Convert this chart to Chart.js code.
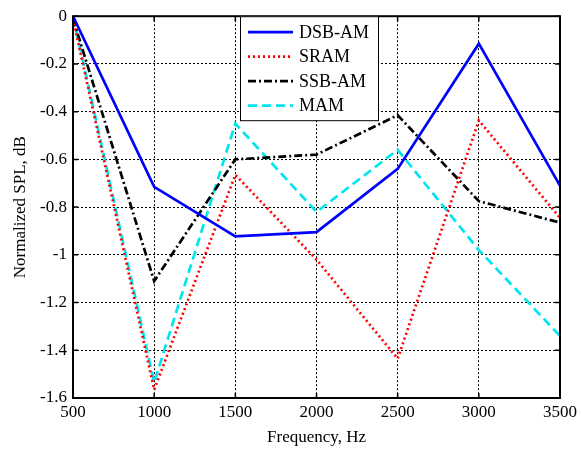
<!DOCTYPE html>
<html lang="en">
<head>
    <meta charset="UTF-8">
    <script src="https://cdn.jsdelivr.net/npm/chart.js"></script>
    <title>Normalized SPL</title>
    <style>
        body { margin: 0; background: #fff; }
        #wrap { width: 581px; height: 450px; }
    </style>
</head>
<body>
    <div id="wrap"><canvas id="splChart" width="581" height="450"></canvas></div>
    <script>
        // values
        const freqs = [500, 1000, 1500, 2000, 2500, 3000, 3500];
        const dsbAm = [0, -0.715, -0.923, -0.905, -0.64, -0.115, -0.71];
        const sram = [-0.01, -1.565, -0.665, -1.02, -1.435, -0.437, -0.845];
        const ssbAm = [-0.01, -1.11, -0.6, -0.58, -0.415, -0.775, -0.865];
        const mam = [0, -1.535, -0.45, -0.82, -0.56, -0.98, -1.34];

        const seriesNames = ['DSB-AM', 'SRAM', 'SSB-AM', 'MAM'];
        const seriesColors = ['#0000ff', '#ff0000', '#000000', '#00e5ee'];
        const seriesDash = [[], [2, 3], [8, 3, 2, 3], [9, 5]];
        const seriesValues = [dsbAm, sram, ssbAm, mam];

        const serif = "'Liberation Serif', 'DejaVu Serif', serif";

        const datasets = seriesNames.map((name, i) => ({
            label: name,
            data: freqs.map((f, j) => ({ x: f, y: seriesValues[i][j] })),
            borderColor: seriesColors[i],
            backgroundColor: seriesColors[i],
            borderDash: seriesDash[i],
            borderWidth: 2.7,
            pointRadius: 0,
            tension: 0,
            fill: false
        }));

        // frame, inward ticks and a matlab style legend box
        const matlabBits = {
            id: 'matlabBits',
            afterDatasetsDraw(chart) {
                const c = chart.ctx;
                const a = chart.chartArea;
                const xs = chart.scales.x, ys = chart.scales.y;
                c.save();
                c.strokeStyle = '#000';
                c.lineWidth = 1.5;
                c.setLineDash([]);
                xs.ticks.forEach(t => {
                    const px = xs.getPixelForValue(t.value);
                    c.beginPath();
                    c.moveTo(px, a.bottom); c.lineTo(px, a.bottom - 5);
                    c.moveTo(px, a.top); c.lineTo(px, a.top + 5);
                    c.stroke();
                });
                ys.ticks.forEach(t => {
                    const py = ys.getPixelForValue(t.value);
                    c.beginPath();
                    c.moveTo(a.left, py); c.lineTo(a.left + 5, py);
                    c.moveTo(a.right, py); c.lineTo(a.right - 5, py);
                    c.stroke();
                });
                c.lineWidth = 2;
                c.strokeRect(a.left, a.top, a.right - a.left, a.bottom - a.top);

                // legend
                const lx = 240, ly = a.top, lw = 138, lh = 104;
                c.fillStyle = '#fff';
                c.fillRect(lx, ly, lw, lh);
                c.lineWidth = 1;
                c.strokeRect(lx + 0.5, ly + 0.5, lw, lh);
                c.font = '18px ' + serif;
                c.textBaseline = 'middle';
                seriesNames.forEach((name, i) => {
                    const yy = ly + 16 + i * 24.5;
                    c.strokeStyle = seriesColors[i];
                    c.lineWidth = 2.7;
                    c.setLineDash(seriesDash[i]);
                    c.beginPath();
                    c.moveTo(lx + 8, yy); c.lineTo(lx + 53, yy);
                    c.stroke();
                    c.setLineDash([]);
                    c.fillStyle = '#000';
                    c.fillText(name, lx + 59, yy + 1);
                });
                c.restore();
            }
        };

        const tickFont = { family: serif, size: 17 };

        new Chart(document.getElementById('splChart'), {
            type: 'line',
            data: { datasets: datasets },
            plugins: [matlabBits],
            options: {
                responsive: false,
                animation: false,
                layout: { padding: { left: 0, right: 21, top: 13, bottom: 0 } },
                plugins: { legend: { display: false }, tooltip: { enabled: false } },
                scales: {
                    x: {
                        type: 'linear',
                        min: 500, max: 3500,
                        ticks: { stepSize: 500, color: '#000', font: tickFont, padding: 4, maxRotation: 0,
                                 callback: v => String(v) },
                        grid: { color: '#000', lineWidth: 1, drawTicks: false },
                        border: { display: false, dash: [2, 2] },
                        title: { display: true, text: 'Frequency, Hz', color: '#000', font: { family: serif, size: 17 }, padding: { top: 0, bottom: 2 } },
                        afterFit(scale) { scale.height = 52; }
                    },
                    y: {
                        min: -1.6, max: 0,
                        ticks: {
                            stepSize: 0.2, color: '#000', font: tickFont, padding: 6,
                            callback: v => String(+v.toFixed(1))
                        },
                        grid: { color: '#000', lineWidth: 1, drawTicks: false },
                        border: { display: false, dash: [2, 2] },
                        title: { display: true, text: 'Normalized SPL, dB', color: '#000', font: { family: serif, size: 17 }, padding: { top: 10, bottom: 0 } },
                        afterFit(scale) { scale.width = 73; }
                    }
                }
            }
        });
    </script>
</body>
</html>
